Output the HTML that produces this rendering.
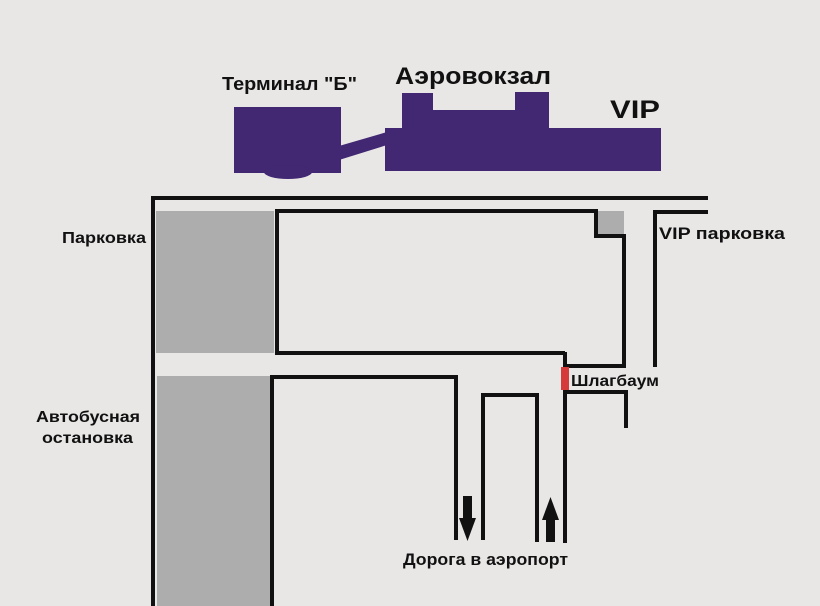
<!DOCTYPE html>
<html><head><meta charset="utf-8"><style>
body{margin:0;background:#e8e7e6;}
svg{display:block}
text{font-family:"Liberation Sans",sans-serif;font-weight:bold;fill:#111}
</style></head><body>
<svg width="820" height="606" viewBox="0 0 820 606" xmlns="http://www.w3.org/2000/svg">
<rect width="820" height="606" fill="#e8e7e6"/>
<g fill="#422773">
<rect x="234" y="107" width="107" height="66"/>
<ellipse cx="288" cy="172" rx="24" ry="7"/>
<polygon points="339,146 387,132 387,145 339,160"/>
<rect x="385" y="128" width="276" height="43"/>
<rect x="402" y="93" width="31" height="36"/>
<rect x="515" y="92" width="34" height="37"/>
<rect x="432" y="110" width="84" height="19"/>
</g>
<rect x="156" y="211" width="118" height="142" fill="#adadad"/>
<rect x="157" y="376" width="114" height="230" fill="#adadad"/>
<rect x="598" y="211" width="26" height="25" fill="#adadad"/>
<g stroke="#111" stroke-width="4" fill="none">
<polyline points="153,606 153,198 708,198"/>
<polyline points="708,212 655,212 655,367"/>
<polyline points="565,353 277,353 277,211 596,211 596,236 624,236 624,366 565,366"/>
<line x1="565" y1="352" x2="565" y2="368"/>
<polyline points="272,606 272,377 456,377 456,540"/>
<polyline points="483,540 483,395 537,395 537,542"/>
<line x1="565" y1="390" x2="565" y2="543"/>
<polyline points="565,392 626,392 626,428"/>
</g>
<rect x="561" y="367" width="8" height="23" fill="#d63a3a"/>
<g fill="#111">
<rect x="463" y="496" width="9" height="24"/>
<polygon points="459,518 476,518 467.5,541"/>
<rect x="546" y="518" width="9" height="24"/>
<polygon points="542,520 559,520 550.5,497"/>
</g>
<text x="222" y="90" font-size="18" textLength="135" lengthAdjust="spacingAndGlyphs">Терминал "Б"</text>
<text x="395" y="84" font-size="24" textLength="156" lengthAdjust="spacingAndGlyphs">Аэровокзал</text>
<text x="610" y="118" font-size="25" textLength="50" lengthAdjust="spacingAndGlyphs">VIP</text>
<text x="62" y="243" font-size="16" textLength="84" lengthAdjust="spacingAndGlyphs">Парковка</text>
<text x="659" y="239" font-size="17" textLength="126" lengthAdjust="spacingAndGlyphs">VIP парковка</text>
<text x="571" y="386" font-size="16" textLength="88" lengthAdjust="spacingAndGlyphs">Шлагбаум</text>
<text x="36" y="422" font-size="16" textLength="104" lengthAdjust="spacingAndGlyphs">Автобусная</text>
<text x="42" y="443" font-size="16" textLength="91" lengthAdjust="spacingAndGlyphs">остановка</text>
<text x="403" y="565" font-size="17" textLength="165" lengthAdjust="spacingAndGlyphs">Дорога в аэропорт</text>
</svg>
</body></html>
